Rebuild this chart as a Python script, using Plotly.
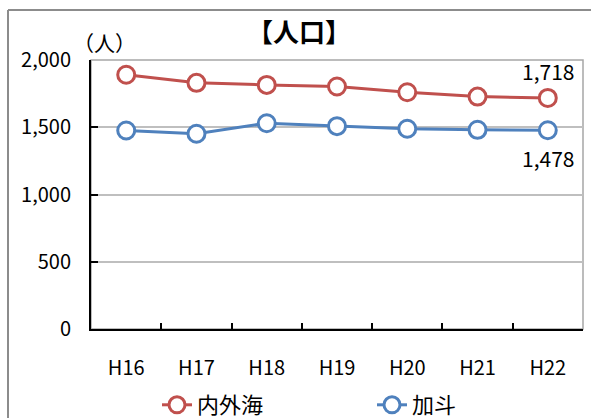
import plotly.graph_objects as go

categories = ["H16", "H17", "H18", "H19", "H20", "H21", "H22"]
uchitomi = [1890, 1830, 1815, 1803, 1760, 1728, 1718]
kado = [1476, 1452, 1530, 1508, 1489, 1481, 1478]
series_names = ["内外海", "加斗"]
colors = ["#C0504D", "#4F81BD"]
ytick_vals = [0, 500, 1000, 1500, 2000]

FONT = "Noto Sans CJK JP"
W, H = 591, 418
L, R, T, B = 91, 8, 60, 89
pw, ph = W - L - R, H - T - B


def px_x(px):
    return (px - L) / pw


def px_y(py):
    return (H - B - py) / ph


fig = go.Figure()
for name, vals, col in zip(series_names, [uchitomi, kado], colors):
    fig.add_trace(go.Scatter(
        x=categories, y=vals, name=name, mode="lines+markers",
        line=dict(color=col, width=3),
        marker=dict(symbol="circle", size=17, color="white",
                    line=dict(color=col, width=3)),
    ))

# end-point value labels
fig.add_annotation(x=categories[-1], y=uchitomi[-1], text=f"{uchitomi[-1]:,}",
                   showarrow=False, yshift=27, font=dict(family=FONT, size=21, color="black"))
fig.add_annotation(x=categories[-1], y=kado[-1], text=f"{kado[-1]:,}",
                   showarrow=False, yshift=-28, font=dict(family=FONT, size=21, color="black"))

# title and unit
fig.add_annotation(xref="paper", yref="paper", x=px_x(299), y=px_y(31), text="<b>【人口】</b>",
                   xanchor="center", yanchor="middle",
                   showarrow=False, font=dict(family=FONT, size=26, color="black"))
fig.add_annotation(xref="paper", yref="paper", x=px_x(104), y=px_y(42), text="（人）",
                   xanchor="center", yanchor="middle",
                   showarrow=False, font=dict(family=FONT, size=21, color="black"))

# plot-area border (gray)
fig.add_shape(type="rect", xref="paper", yref="paper", x0=0, x1=1, y0=0, y1=1,
              line=dict(color="#A6A6A6", width=1.5), layer="below")
# outer chart border
fig.add_shape(type="line", xref="paper", yref="paper", x0=px_x(8), x1=px_x(8),
              y0=px_y(10), y1=px_y(430), line=dict(color="#8C8C8C", width=2))
fig.add_shape(type="line", xref="paper", yref="paper", x0=px_x(8), x1=px_x(600),
              y0=px_y(10), y1=px_y(10), line=dict(color="#8C8C8C", width=2))

fig.update_layout(
    width=W, height=H,
    margin=dict(l=L, r=R, t=T, b=B, autoexpand=False),
    paper_bgcolor="white", plot_bgcolor="white",
    font=dict(family=FONT, color="black"),
    showlegend=True,
    legend=dict(orientation="h", x=157 / W, y=(H - 405) / H, xref="container", yref="container",
                xanchor="left", yanchor="middle",
                font=dict(family=FONT, size=22), entrywidth=170, entrywidthmode="pixels",
                bgcolor="rgba(0,0,0,0)"),
)
fig.update_xaxes(
    type="category", showgrid=False, showline=True, linecolor="black", linewidth=2,
    ticks="inside", tickson="boundaries", ticklen=6, tickcolor="black", tickwidth=1.5,
    tickfont=dict(family=FONT, size=20), ticklabelstandoff=20, automargin=False,
)
fig.update_yaxes(
    range=[0, 2000], tickvals=ytick_vals, tickformat=",d",
    showgrid=True, gridcolor="#BFBFBF", gridwidth=1.5,
    showline=True, linecolor="black", linewidth=2, zeroline=False,
    ticks="inside", ticklen=7, tickcolor="black", tickwidth=2,
    tickfont=dict(family=FONT, size=20), ticklabelstandoff=14, automargin=False,
)

fig.write_html("out.html", config={"displayModeBar": False},
               post_script="document.body.style.margin='0';document.body.style.overflow='hidden';")
